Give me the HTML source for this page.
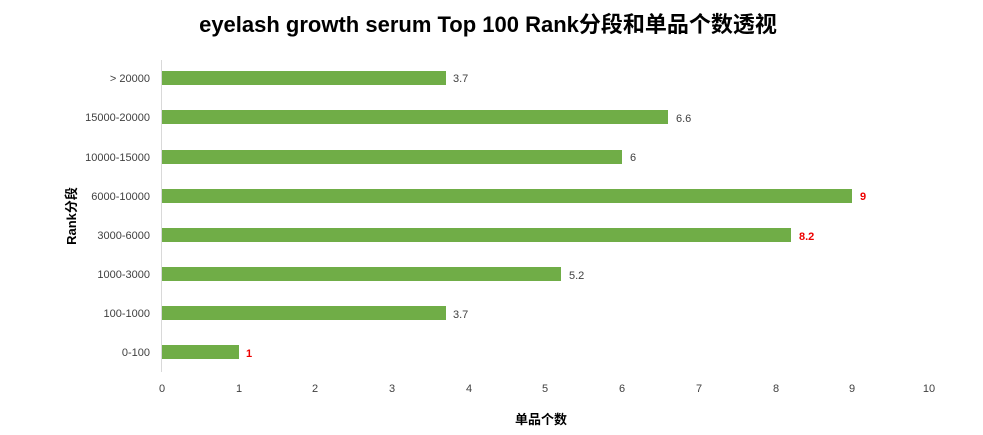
<!DOCTYPE html>
<html><head><meta charset="utf-8"><style>
body{margin:0;background:#fff;}
svg text{font-family:"Liberation Sans","Noto Sans CJK SC",sans-serif;}
</style></head><body>
<svg width="983" height="430" xmlns="http://www.w3.org/2000/svg">
<rect width="983" height="430" fill="#fff"/>
<text x="488" y="32" font-size="22" font-weight="bold" text-anchor="middle" fill="#000">eyelash growth serum Top 100 Rank分段和单品个数透视</text>
<line x1="161.5" y1="60" x2="161.5" y2="372" stroke="#d9d9d9"/>
<g font-size="11" fill="#404040" text-anchor="end">
<text x="150" y="82">&gt; 20000</text>
<text x="150" y="121">15000-20000</text>
<text x="150" y="161">10000-15000</text>
<text x="150" y="200">6000-10000</text>
<text x="150" y="239">3000-6000</text>
<text x="150" y="278">1000-3000</text>
<text x="150" y="317">100-1000</text>
<text x="150" y="356">0-100</text>
</g>
<g fill="#70ad47">
<rect x="162" y="71" width="284" height="14"/>
<rect x="162" y="110" width="506" height="14"/>
<rect x="162" y="150" width="460" height="14"/>
<rect x="162" y="189" width="690" height="14"/>
<rect x="162" y="228" width="629" height="14"/>
<rect x="162" y="267" width="399" height="14"/>
<rect x="162" y="306" width="284" height="14"/>
<rect x="162" y="345" width="77" height="14"/>
</g>
<g font-size="11" fill="#404040">
<text x="453" y="82">3.7</text>
<text x="676" y="122">6.6</text>
<text x="630" y="161">6</text>
<text x="860" y="200" fill="#e00" font-weight="bold">9</text>
<text x="799" y="240" fill="#e00" font-weight="bold">8.2</text>
<text x="569" y="279">5.2</text>
<text x="453" y="318">3.7</text>
<text x="246" y="357" fill="#e00" font-weight="bold">1</text>
</g>
<g font-size="11" fill="#404040" text-anchor="middle">
<text x="162" y="392">0</text><text x="239" y="392">1</text><text x="315" y="392">2</text>
<text x="392" y="392">3</text><text x="469" y="392">4</text><text x="545" y="392">5</text>
<text x="622" y="392">6</text><text x="699" y="392">7</text><text x="776" y="392">8</text>
<text x="852" y="392">9</text><text x="929" y="392">10</text>
</g>
<text x="541" y="424" font-size="13" font-weight="bold" text-anchor="middle">单品个数</text>
<text transform="translate(76,216) rotate(-90)" font-size="13" font-weight="bold" text-anchor="middle">Rank分段</text>
</svg>
</body></html>
